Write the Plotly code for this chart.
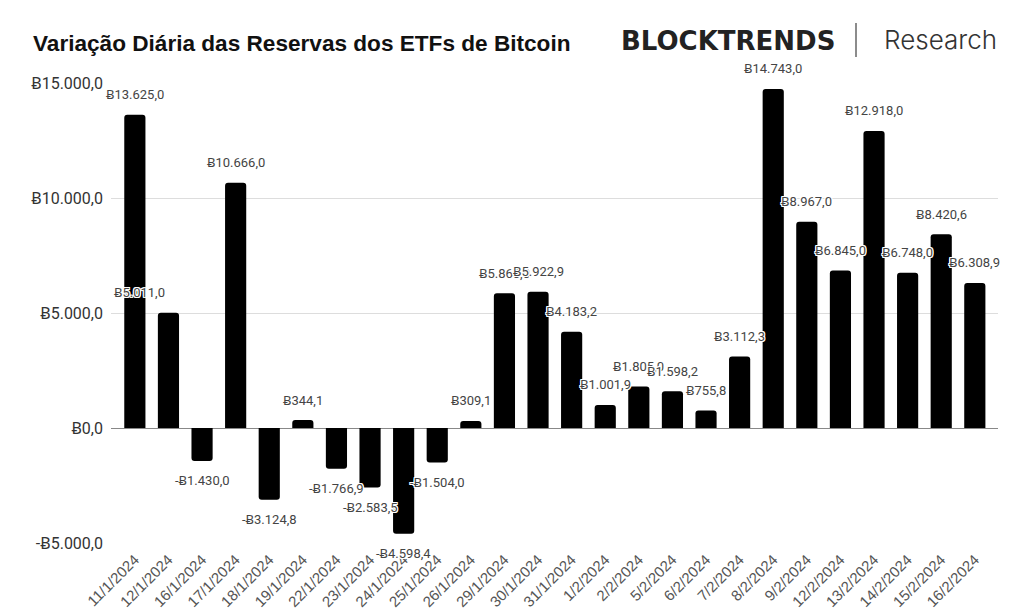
import plotly.graph_objects as go

dates = ["11/1/2024", "12/1/2024", "16/1/2024", "17/1/2024", "18/1/2024", "19/1/2024",
         "22/1/2024", "23/1/2024", "24/1/2024", "25/1/2024", "26/1/2024", "29/1/2024",
         "30/1/2024", "31/1/2024", "1/2/2024", "2/2/2024", "5/2/2024", "6/2/2024",
         "7/2/2024", "8/2/2024", "9/2/2024", "12/2/2024", "13/2/2024", "14/2/2024",
         "15/2/2024", "16/2/2024"]
values = [13625.0, 5011.0, -1430.0, 10666.0, -3124.8, 344.1,
          -1766.9, -2583.5, -4598.4, -1504.0, 309.1, 5860.0,
          5922.9, 4183.2, 1001.9, 1805.0, 1598.2, 755.8,
          3112.3, 14743.0, 8967.0, 6845.0, 12918.0, 6748.0,
          8420.6, 6308.9]
y_tick_values = [-5000, 0, 5000, 10000, 15000]
y_tick_labels = ["-\u02435.000,0", "\u02430,0", "\u02435.000,0", "\u024310.000,0", "\u024315.000,0"]

title_text = "Variação Diária das Reservas dos ETFs de Bitcoin"
brand_text = "BLOCKTRENDS"
brand_sub = "Research"

# label horizontal displacement (collision avoidance in original)
label_xshift = {"12/1/2024": -29}


def fmt(v):
    s = f"{abs(v):,.1f}".replace(",", "X").replace(".", ",").replace("X", ".")
    return ("-" if v < 0 else "") + "\u0243" + s


W, H = 1024, 616
ML, MR, MT, MB = 111, 26, 83, 73
PW, PH = W - ML - MR, H - MT - MB


def px(x):
    return (x - ML) / PW


def py(y):
    return (H - MB - y) / PH


halo = "-1px -1px 0 #fff, 1px -1px 0 #fff, -1px 1px 0 #fff, 1px 1px 0 #fff, 0 1px 0 #fff, 0 -1px 0 #fff, 1px 0 0 #fff, -1px 0 0 #fff"

fig = go.Figure()
fig.add_trace(go.Bar(
    x=dates, y=values,
    marker=dict(color="#000000", line=dict(width=0)),
    hoverinfo="x+y",
))

annotations = []
for d, v in zip(dates, values):
    annotations.append(dict(
        x=d, y=v, xref="x", yref="y",
        text=fmt(v), showarrow=False,
        xanchor="center", yanchor="middle",
        yshift=20 if v >= 0 else -20,
        xshift=label_xshift.get(d, 0),
        font=dict(family="Roboto, 'Noto Sans', sans-serif", size=13, color="#444444", shadow=halo),
    ))

# title
annotations.append(dict(
    x=px(31), y=py(43), xref="paper", yref="paper",
    text="<b>" + title_text + "</b>", showarrow=False,
    xanchor="left", yanchor="middle",
    font=dict(family="Liberation Sans, Arial, sans-serif", size=22.6, color="#111111"),
))
# brand
annotations.append(dict(
    x=px(837), y=py(41), xref="paper", yref="paper",
    text=brand_text, showarrow=False,
    xanchor="right", yanchor="middle",
    font=dict(family="DejaVu Sans, sans-serif", size=26, color="#222222", weight=900),
))
annotations.append(dict(
    x=px(999), y=py(40), xref="paper", yref="paper",
    text=brand_sub, showarrow=False,
    xanchor="right", yanchor="middle",
    font=dict(family="Inter, sans-serif", size=26, color="#333333", weight=300),
))

fig.update_layout(
    width=W, height=H,
    margin=dict(l=ML, r=MR, t=MT, b=MB, pad=0, autoexpand=False),
    paper_bgcolor="#ffffff", plot_bgcolor="#ffffff",
    bargap=0.37,
    barcornerradius=3,
    showlegend=False,
    annotations=annotations,
    shapes=[dict(
        type="line", xref="paper", yref="paper",
        x0=px(856), x1=px(856), y0=py(23), y1=py(57),
        line=dict(color="#666666", width=1.5),
    )],
    xaxis=dict(
        type="category",
        range=[-0.71, 25.69],
        tickangle=-45,
        automargin=False,
        tickfont=dict(family="Liberation Sans, Arial, sans-serif", size=15, color="#555555"),
        showgrid=False, showline=False, zeroline=False,
        ticks="", ticklabelstandoff=4,
    ),
    yaxis=dict(
        range=[-5000, 15000],
        automargin=False,
        tickvals=y_tick_values, ticktext=y_tick_labels,
        tickfont=dict(family="Roboto, 'Noto Sans', sans-serif", size=16, color="#333333"),
        gridcolor="#dddddd", gridwidth=1,
        zeroline=True, zerolinecolor="#888888", zerolinewidth=1,
        showline=False, ticks="", ticklabelstandoff=7,
    ),
)

fig.write_html("out.html")
